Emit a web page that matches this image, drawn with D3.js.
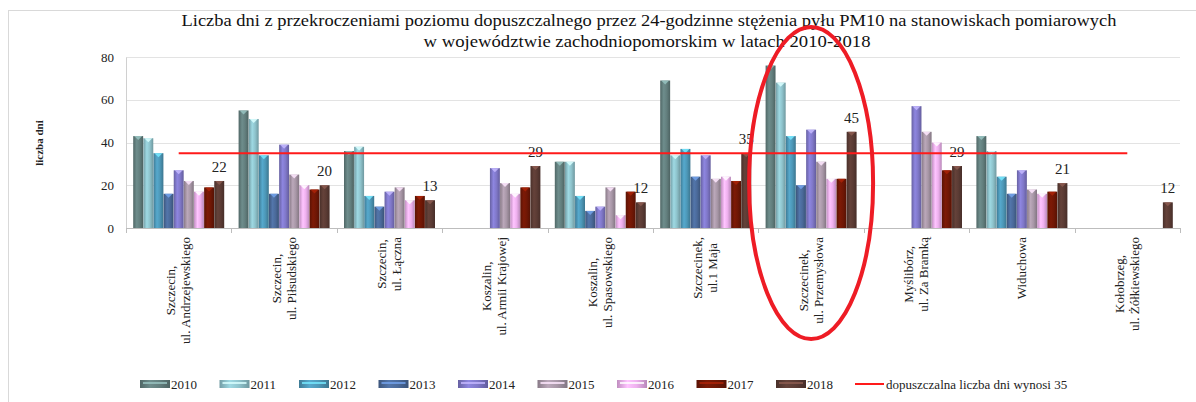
<!DOCTYPE html>
<html>
<head>
<meta charset="utf-8">
<script src="https://cdn.jsdelivr.net/npm/d3@7"></script>
<style>
  body { margin: 0; background: #fff; }
  svg { font-family: "Liberation Serif", "Times New Roman", serif; }
</style>
</head>
<body>
<svg id="chart" width="1196" height="402"></svg>
<script>
// data

var stations = [
  ["Szczecin,", "ul. Andrzejewskiego"],
  ["Szczecin,", "ul. Piłsudskiego"],
  ["Szczecin,", "ul. Łączna"],
  ["Koszalin,", "ul. Armii Krajowej"],
  ["Koszalin,", "ul. Spasowskiego"],
  ["Szczecinek,", "ul.1 Maja"],
  ["Szczecinek,", "ul. Przemysłowa"],
  ["Myślibórz,", "ul. Za Bramką"],
  ["Widuchowa"],
  ["Kołobrzeg,", "ul. Żółkiewskiego"]
];
var years = ["2010", "2011", "2012", "2013", "2014", "2015", "2016", "2017", "2018"];

// one array per year, one value per station (null = no measurement)
var y2010 = [43, 55, 36, null, 31, 69, 76, null, 43, null];
var y2011 = [42, 51, 38, null, 31, 34, 68, null, 36, null];
var y2012 = [35, 34, 15, null, 15, 37, 43, null, 24, null];
var y2013 = [16, 16, 10, null, 8, 24, 20, null, 16, null];
var y2014 = [27, 39, 17, 28, 10, 34, 46, 57, 27, null];
var y2015 = [22, 25, 19, 21, 19, 23, 31, 45, 18, null];
var y2016 = [17, 20, 13, 16, 6, 24, 23, 40, 16, null];
var y2017 = [19, 18, 15, 19, 17, 22, 23, 27, 17, null];
var y2018 = [22, 20, 13, 29, 12, 35, 45, 29, 21, 12];
var series = [y2010, y2011, y2012, y2013, y2014, y2015, y2016, y2017, y2018];

var limit = 35;
var yTicks = [0, 20, 40, 60, 80];
var colors = ["#637f7e", "#8ec3cc", "#4d98b8", "#4b6a9a", "#8078c9", "#a897a7", "#eeb0ee", "#701705", "#5b3b34"];

var title1 = "Liczba dni z przekroczeniami poziomu dopuszczalnego przez 24-godzinne stężenia pyłu PM10 na stanowiskach pomiarowych";
var title2 = "w województwie zachodniopomorskim w latach 2010-2018";
var limitLabel = "dopuszczalna liczba dni wynosi 35";

// layout

var svg = d3.select("#chart");
var plotLeft = 126, plotRight = 1180, plotTop = 57, plotBottom = 228;
var serif = "Liberation Serif";

var x = d3.scaleBand().domain(d3.range(stations.length)).range([plotLeft, plotRight]);
var xi = d3.scaleBand().domain(years).range([7, x.bandwidth() - 7]).padding(0.02);
var y = d3.scaleLinear().domain([0, 80]).range([plotBottom, plotTop]);

// outer border
svg.append("rect").attr("x", 8.5).attr("y", 10.5).attr("width", 1200).attr("height", 420)
  .attr("fill", "none").attr("stroke", "#d9d9d9");

// gradients for the 3d look
var defs = svg.append("defs");
colors.forEach(function(c, i) {
  var g = defs.append("linearGradient").attr("id", "g" + i).attr("x1", 0).attr("x2", 1).attr("y1", 0).attr("y2", 0);
  var base = d3.color(c);
  g.append("stop").attr("offset", "0%").attr("stop-color", base.darker(0.6));
  g.append("stop").attr("offset", "35%").attr("stop-color", base.brighter(0.3));
  g.append("stop").attr("offset", "65%").attr("stop-color", base);
  g.append("stop").attr("offset", "100%").attr("stop-color", base.darker(0.7));
});

// title
svg.append("text").attr("x", 649).attr("y", 26).attr("text-anchor", "middle")
  .attr("font-size", 17).attr("textLength", 935).attr("lengthAdjust", "spacingAndGlyphs")
  .attr("fill", "#111").text(title1);
svg.append("text").attr("x", 647).attr("y", 47).attr("text-anchor", "middle")
  .attr("font-size", 17).attr("textLength", 447).attr("lengthAdjust", "spacingAndGlyphs")
  .attr("fill", "#111").text(title2);

// grid and y axis
svg.append("g").selectAll("line").data(yTicks.slice(1)).enter().append("line")
  .attr("x1", plotLeft).attr("x2", plotRight).attr("y1", function(d) { return Math.round(y(d)) + 0.5; })
  .attr("y2", function(d) { return Math.round(y(d)) + 0.5; })
  .attr("stroke", "#e3e3e3");

var yAxis = svg.append("g").attr("transform", "translate(" + plotLeft + ",0)")
  .call(d3.axisLeft(y).tickValues(yTicks).tickSize(0).tickPadding(12))
  .attr("font-family", serif).attr("font-size", 13);
yAxis.select(".domain").attr("stroke", "#d0d0d0");
yAxis.selectAll("text").attr("fill", "#222");

svg.append("text").attr("transform", "translate(43," + 143 + ") rotate(-90)")
  .attr("text-anchor", "middle").attr("font-size", 11).attr("font-weight", "bold")
  .attr("fill", "#222").text("liczba dni");

// x axis line and ticks at group boundaries
svg.append("line").attr("x1", plotLeft).attr("x2", plotRight).attr("y1", plotBottom + 0.5).attr("y2", plotBottom + 0.5)
  .attr("stroke", "#bdbdbd");
svg.append("g").selectAll("line").data(d3.range(stations.length + 1)).enter().append("line")
  .attr("x1", function(d) { return Math.round(plotLeft + d * x.bandwidth()) + 0.5; })
  .attr("x2", function(d) { return Math.round(plotLeft + d * x.bandwidth()) + 0.5; })
  .attr("y1", plotBottom).attr("y2", plotBottom + 5).attr("stroke", "#bdbdbd");

// bars
var groups = svg.append("g").selectAll("g").data(stations).enter().append("g")
  .attr("transform", function(d, i) { return "translate(" + x(i) + ",0)"; });

groups.each(function(st, si) {
  var g = d3.select(this);
  var vals = series.map(function(s, yi) { return { year: years[yi], yi: yi, v: s[si] }; })
    .filter(function(d) { return d.v != null; });

  g.selectAll("rect").data(vals).enter().append("rect")
    .attr("x", function(d) { return xi(d.year); })
    .attr("y", function(d) { return y(d.v); })
    .attr("width", xi.bandwidth())
    .attr("height", function(d) { return plotBottom - y(d.v); })
    .attr("fill", function(d) { return "url(#g" + d.yi + ")"; });

  // small light cap on top
  g.selectAll("path").data(vals).enter().append("path")
    .attr("d", function(d) {
      var x0 = xi(d.year), w = xi.bandwidth(), t = y(d.v);
      return "M" + (x0 + 1) + "," + t + "L" + (x0 + w - 1) + "," + t + "L" + (x0 + w / 2) + "," + (t + 4) + "Z";
    })
    .attr("fill", function(d) { return d3.color(colors[d.yi]).brighter(1.2); })
    .attr("opacity", 0.85);

  // value of 2018
  var last = series[series.length - 1][si];
  g.append("text").attr("x", xi("2018") + xi.bandwidth() / 2).attr("y", y(last) - 9)
    .attr("text-anchor", "middle").attr("font-family", serif).attr("font-size", 15)
    .attr("fill", "#222").text(last);
});

// limit line
svg.append("line")
  .attr("x1", x(0) + x.bandwidth() / 2).attr("x2", x(stations.length - 1) + x.bandwidth() / 2)
  .attr("y1", y(limit)).attr("y2", y(limit))
  .attr("stroke", "#ff1a1a").attr("stroke-width", 2);

// category labels (rotated, block top-aligned under the axis)
groups.each(function(st, si) {
  var g = d3.select(this);
  var cx = x.bandwidth() / 2;
  var lineGap = 15;
  var texts = st.map(function(line, li) {
    var off = (li - (st.length - 1) / 2) * lineGap;
    return g.append("text").attr("font-size", 13).attr("fill", "#222")
      .attr("text-anchor", "middle").text(line).datum(off);
  });
  var maxLen = d3.max(texts, function(t) { return t.node().getComputedTextLength(); });
  var cy = 237 + maxLen / 2;
  texts.forEach(function(t) {
    var off = t.datum();
    t.attr("transform", "translate(" + (cx + off + 4) + "," + cy + ") rotate(-90)");
  });
});

// legend
var legend = svg.append("g").attr("transform", "translate(0,384)");
years.forEach(function(yr, i) {
  var lx = 140 + i * 79.5;
  legend.append("rect").attr("x", lx).attr("y", -4).attr("width", 30).attr("height", 8)
    .attr("fill", "url(#g" + i + ")");
  legend.append("rect").attr("x", lx + 3).attr("y", -2).attr("width", 24).attr("height", 2)
    .attr("fill", d3.color(colors[i]).brighter(1.2)).attr("opacity", 0.8);
  legend.append("text").attr("x", lx + 31).attr("y", 4.5).attr("font-size", 13)
    .attr("fill", "#222").text(yr);
});
legend.append("line").attr("x1", 855).attr("x2", 884).attr("y1", 0).attr("y2", 0)
  .attr("stroke", "#ff1a1a").attr("stroke-width", 2);
legend.append("text").attr("x", 886).attr("y", 4.5).attr("font-size", 13)
  .attr("fill", "#222").text(limitLabel);

// red ellipse highlight
svg.append("ellipse").attr("cx", x(6) + x.bandwidth() / 2).attr("cy", 183)
  .attr("rx", 62).attr("ry", 156)
  .attr("fill", "none").attr("stroke", "#ee1c25").attr("stroke-width", 4);
</script>
</body>
</html>
